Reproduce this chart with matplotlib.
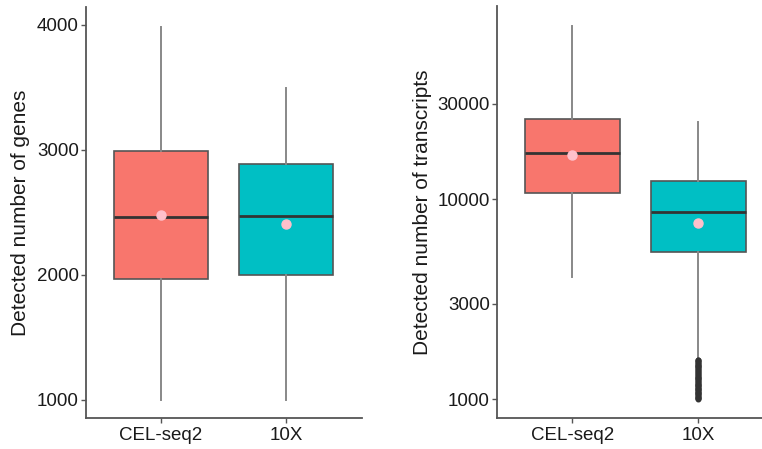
import matplotlib
matplotlib.use("Agg")
import matplotlib.pyplot as plt
from matplotlib.ticker import FixedLocator, FixedFormatter, NullLocator

plt.rcParams['font.family'] = ['Liberation Sans', 'DejaVu Sans']

categories = ["CEL-seq2", "10X"]
colors = ["#F8766D", "#00BFC4"]

# Left panel: detected number of genes
genes_whislo = [1000, 1000]
genes_q1 = [1968, 2000]
genes_med = [2462, 2469]
genes_q3 = [2995, 2891]
genes_whishi = [3981, 3493]
genes_mean = [2480, 2408]

# Right panel: detected number of transcripts (log scale)
tx_whislo = [4070, 1600]
tx_q1 = [10700, 5430]
tx_med = [17000, 8670]
tx_q3 = [25300, 12400]
tx_whishi = [73800, 24430]
tx_mean = [16600, 7590]
tx_fliers_10x = [1000, 1010, 1020, 1030, 1040, 1050, 1060, 1070, 1080, 1090,
                 1100, 1110, 1120, 1130, 1140, 1150, 1160, 1172, 1185, 1197,
                 1210, 1222, 1235, 1248, 1260, 1272, 1285, 1298, 1310, 1325,
                 1340, 1355, 1370, 1385, 1400, 1415, 1430, 1445, 1460, 1475,
                 1490, 1505, 1520, 1535, 1550, 1565, 1580]
tx_fliers = [[], tx_fliers_10x]

genes_ticks = [1000, 2000, 3000, 4000]
tx_ticks = [1000, 3000, 10000, 30000]

W, H = 762, 449
fig = plt.figure(figsize=(W / 100, H / 100), dpi=100)

ax1 = fig.add_axes([85.7 / W, 1 - 417.7 / H, (361.7 - 85.7) / W, (417.7 - 7) / H])
ax2 = fig.add_axes([496.7 / W, 1 - 417.7 / H, (774 - 496.7) / W, (417.7 - 6) / H])


def draw(ax, whislo, q1, med, q3, whishi, mean, fliers):
    stats = []
    for i in range(len(categories)):
        stats.append(dict(label=categories[i], whislo=whislo[i], q1=q1[i], med=med[i],
                          q3=q3[i], whishi=whishi[i], mean=mean[i], fliers=fliers[i]))
    bp = ax.bxp(stats, positions=[1, 2], widths=0.75, patch_artist=True,
                showmeans=True, showcaps=False, showfliers=True,
                boxprops=dict(edgecolor="#555555", linewidth=1.2),
                medianprops=dict(color="#333333", linewidth=2.0),
                whiskerprops=dict(color="#888888", linewidth=1.4),
                meanprops=dict(marker="o", markerfacecolor="#FFC0CB",
                               markeredgecolor="#FFC0CB", markersize=6.5),
                flierprops=dict(marker="o", markerfacecolor="#333333",
                                markeredgecolor="#333333", markersize=3.3))
    for patch, c in zip(bp["boxes"], colors):
        patch.set_facecolor(c)
    ax.set_xlim(0.4, 2.6)
    for s in ["top", "right"]:
        ax.spines[s].set_visible(False)
    for s in ["left", "bottom"]:
        ax.spines[s].set_color("#555555")
        ax.spines[s].set_linewidth(1.3)
    ax.tick_params(axis="both", colors="#555555", length=3.5, width=1.0,
                   labelcolor="#1a1a1a", labelsize=13.5)
    ax.tick_params(axis="y", pad=1.5)
    ax.tick_params(axis="x", pad=3)
    return bp


draw(ax1, genes_whislo, genes_q1, genes_med, genes_q3, genes_whishi, genes_mean, [[], []])
ax1.set_ylim(856, 4144)
ax1.yaxis.set_major_locator(FixedLocator(genes_ticks))
ax1.yaxis.set_major_formatter(FixedFormatter([str(t) for t in genes_ticks]))
ax1.set_ylabel("Detected number of genes", fontsize=15, color="#1a1a1a", labelpad=5)

draw(ax2, tx_whislo, tx_q1, tx_med, tx_q3, tx_whishi, tx_mean, tx_fliers)
ax2.set_yscale("log")
ax2.set_ylim(809, 92500)
ax2.yaxis.set_major_locator(FixedLocator(tx_ticks))
ax2.yaxis.set_major_formatter(FixedFormatter([str(t) for t in tx_ticks]))
ax2.yaxis.set_minor_locator(NullLocator())
ax2.set_ylabel("Detected number of transcripts", fontsize=15, color="#1a1a1a", labelpad=4)

fig.savefig("out.png", dpi=100)
